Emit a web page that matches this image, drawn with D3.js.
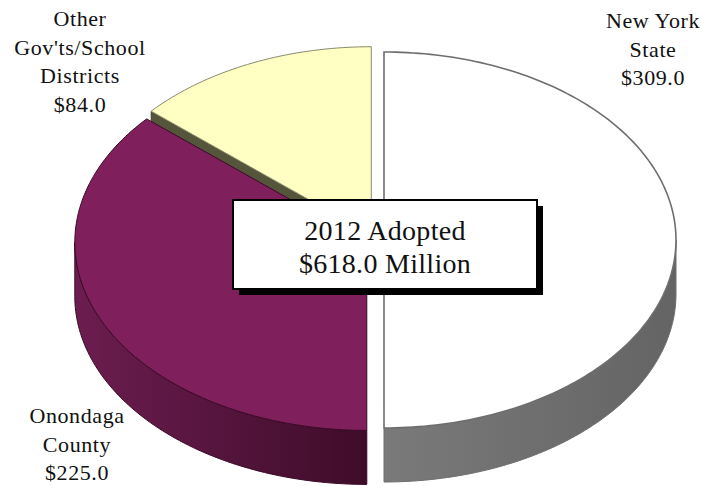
<!DOCTYPE html>
<html><head><meta charset="utf-8">
<script src="https://cdn.jsdelivr.net/npm/d3@7"></script>
<style>body{margin:0;background:#fff}svg{display:block}text{font-family:"Liberation Serif","DejaVu Serif",serif;fill:#111}</style>
</head><body><svg id="c" width="702" height="486"></svg>
<script>
const categories = ["New York State", "Onondaga County", "Other Gov'ts/School Districts"];
const values = [309.0, 225.0, 84.0];
const labelLines = [["New York","State","$309.0"],["Onondaga","County","$225.0"],["Other","Gov'ts/School","Districts","$84.0"]];
const topColors = ["#ffffff", "#7f1f5c", "#ffffc4"];
const sideColorsA = ["#7a7a7a", "#6c1d50", "#66664a"];
const sideColorsB = ["#646464", "#3e0c29", "#55553c"];
const outlineColors = ["#6e6e6e", "#3a0a26", "#8a8a70"];
const titleLines = ["2012 Adopted", "$618.0 Million"];

const svg = d3.select("#c");
const cx = 375, cy = 240, rx = 292, ry = 188, depth = 54, explode = 9;
const tilt = ry / rx;
const sx = d3.scaleLinear().domain([-1, 1]).range([-rx, rx]);
const sy = d3.scaleLinear().domain([-1, 1]).range([ry, -ry]);

const pie = d3.pie().sort(null).value(d => d);
const arcs = pie(values);

function center(a) {
  const m = (a.startAngle + a.endAngle) / 2;
  return [cx + explode * Math.sin(m), cy - explode * tilt * Math.cos(m)];
}
function pt(c, ang, dy = 0) { return [c[0] + sx(Math.sin(ang)), c[1] + sy(Math.cos(ang)) + dy]; }
function arcPts(c, a0, a1, dy = 0) {
  const n = Math.max(2, Math.ceil(Math.abs(a1 - a0) / 0.02));
  return d3.range(n + 1).map(i => pt(c, a0 + (a1 - a0) * i / n, dy));
}
const line = d3.line();
const defs = svg.append("defs");
arcs.forEach((a, i) => {
  const g = defs.append("linearGradient").attr("id", "sg" + i).attr("x1", "0").attr("x2", "1").attr("y1", "0").attr("y2", "0");
  g.append("stop").attr("offset", "0").attr("stop-color", sideColorsA[i]);
  g.append("stop").attr("offset", "1").attr("stop-color", sideColorsB[i]);
});

// draw order: back slice first
const order = [2, 1, 0];
order.forEach(i => {
  const a = arcs[i], c = center(a), g = svg.append("g");
  // radial walls facing viewer
  [[a.startAngle, -1], [a.endAngle, 1]].forEach(([ang, s]) => {
    const ncos = s > 0 ? -Math.sin(ang) : Math.sin(ang);
    if (ncos < -0.05) {
      const p = pt(c, ang);
      g.append("path").attr("d", line([c, p, [p[0], p[1] + depth], [c[0], c[1] + depth]]) + "Z")
        .attr("fill", sideColorsB[i]).attr("stroke", "#3e3e2a").attr("stroke-width", 0.8);
    }
  });
  // outer wall, visible part between PI/2 and 3PI/2
  const v0 = Math.max(a.startAngle, Math.PI / 2), v1 = Math.min(a.endAngle, 3 * Math.PI / 2);
  if (v1 > v0) {
    const top = arcPts(c, v0, v1), bot = arcPts(c, v1, v0, depth);
    g.append("path").attr("d", line(top.concat(bot)) + "Z")
      .attr("fill", `url(#sg${i})`).attr("stroke", outlineColors[i]).attr("stroke-width", 1);
  }
  // top face
  const pts = [c].concat(arcPts(c, a.startAngle, a.endAngle));
  g.append("path").attr("d", line(pts) + "Z")
    .attr("fill", topColors[i]).attr("stroke", outlineColors[i]).attr("stroke-width", i === 0 ? 1.6 : 1);
});

// labels
const labelPos = [[653, 28], [77, 423], [80, 26]];
const lh = 28.6;
labelLines.forEach((lines, i) => {
  const t = svg.append("text").attr("text-anchor", "middle").attr("font-size", 22).attr("letter-spacing", 0.6);
  lines.forEach((s, k) => t.append("tspan").attr("x", labelPos[i][0]).attr("y", labelPos[i][1] + k * lh).text(s));
});

// title box
const bx = 233, by = 200, bw = 304, bh = 89;
svg.append("rect").attr("x", bx + 6).attr("y", by + 6).attr("width", bw).attr("height", bh).attr("fill", "#000");
svg.append("rect").attr("x", bx).attr("y", by).attr("width", bw).attr("height", bh).attr("fill", "#fff").attr("stroke", "#000").attr("stroke-width", 2);
const tt = svg.append("text").attr("text-anchor", "middle").attr("font-size", 28).attr("letter-spacing", 0.3);
titleLines.forEach((s, k) => tt.append("tspan").attr("x", bx + bw / 2).attr("y", by + 40 + k * 33).text(s));
</script></body></html>
